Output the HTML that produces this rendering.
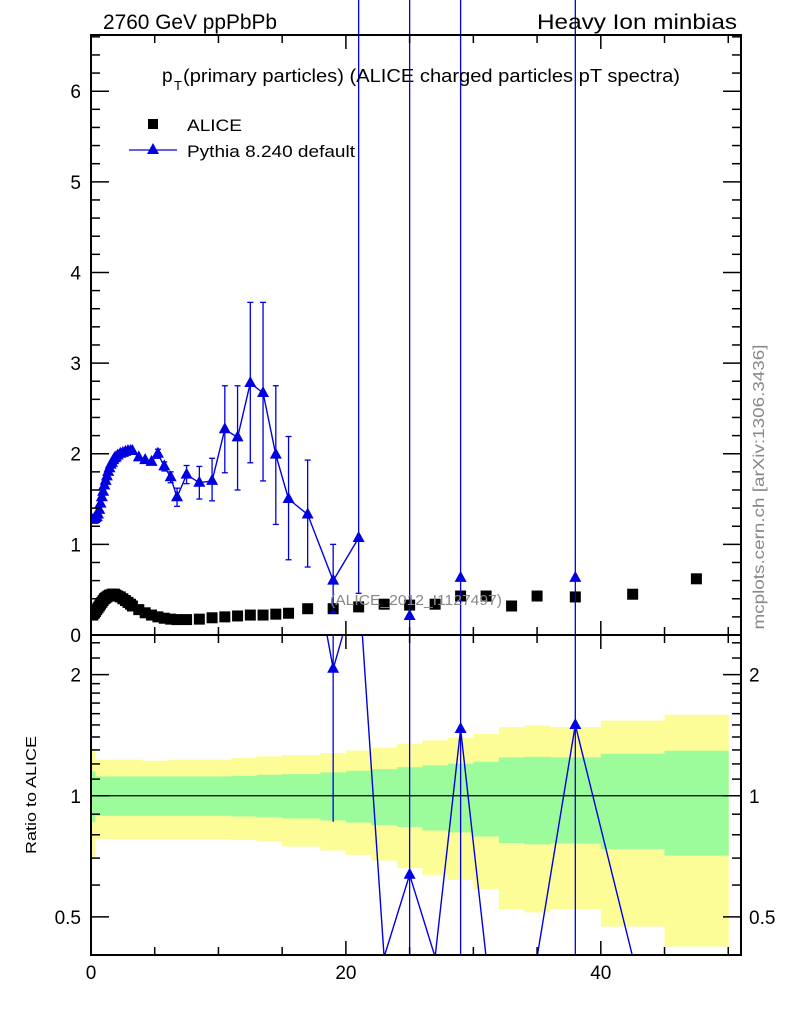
<!DOCTYPE html>
<html><head><meta charset="utf-8"><style>
html,body{margin:0;padding:0;background:#fff;}
svg{display:block;font-family:"Liberation Sans",sans-serif;}
</style></head><body>
<svg id="chart" width="786" height="1024" viewBox="0 0 786 1024" xmlns="http://www.w3.org/2000/svg">
<g id="ratioBands"></g>
<g id="ratioLayer"></g>
<g id="mainLayer"></g>
<g id="axes"></g>
<text x="103" y="29" font-size="21" textLength="174" lengthAdjust="spacingAndGlyphs">2760 GeV ppPbPb</text>
<text x="537" y="29" font-size="21" textLength="200" lengthAdjust="spacingAndGlyphs">Heavy Ion minbias</text>
<text x="162" y="82" font-size="19">p</text>
<text x="174" y="90" font-size="13">T</text>
<text x="183" y="82" font-size="18" textLength="497" lengthAdjust="spacingAndGlyphs">(primary particles) (ALICE charged particles pT spectra)</text>
<g>
<rect x="148" y="119" width="10" height="10" fill="#000"/>
<text x="187" y="131" font-size="17" textLength="55" lengthAdjust="spacingAndGlyphs">ALICE</text>
<line x1="129" y1="150" x2="177" y2="150" stroke="#0000e0" stroke-width="1.3"/>
<polygon points="153,143 159,154 147,154" fill="#0000e0"/>
<text x="187" y="157" font-size="17" textLength="168" lengthAdjust="spacingAndGlyphs">Pythia 8.240 default</text>
</g>
<text x="330" y="605" font-size="15" fill="#888" textLength="172" lengthAdjust="spacingAndGlyphs">(ALICE_2012_I1127497)</text>
<text transform="translate(764,487) rotate(-90)" font-size="16" fill="#888" text-anchor="middle" textLength="285" lengthAdjust="spacingAndGlyphs">mcplots.cern.ch [arXiv:1306.3436]</text>
<text transform="translate(36,795) rotate(-90)" font-size="15" text-anchor="middle" textLength="118" lengthAdjust="spacingAndGlyphs">Ratio to ALICE</text>
</svg>
<script>
// ---- data ----
const xs = [0.15,0.25,0.35,0.45,0.55,0.65,0.75,0.85,0.95,1.05,1.15,1.25,1.35,1.45,1.55,1.65,1.75,1.85,1.95,2.1,2.3,2.5,2.7,2.9,3.1,3.25,3.75,4.25,4.75,5.25,5.75,6.25,6.75,7.5,8.5,9.5,10.5,11.5,12.5,13.5,14.5,15.5,17,19,21,23,25,27,29,31,33,35,38,42.5,47.5];
const aliceVals = [0.22,0.24,0.26,0.28,0.30,0.32,0.34,0.36,0.38,0.40,0.41,0.42,0.43,0.44,0.44,0.45,0.45,0.45,0.44,0.43,0.42,0.40,0.38,0.36,0.34,0.32,0.28,0.245,0.22,0.2,0.185,0.175,0.17,0.17,0.175,0.19,0.2,0.21,0.22,0.22,0.23,0.24,0.29,0.29,0.31,0.34,0.33,0.34,0.43,0.43,0.32,0.43,0.42,0.45,0.62];
const pythiaVals = [1.27,1.28,1.29,1.30,1.33,1.38,1.45,1.52,1.58,1.65,1.70,1.75,1.80,1.84,1.88,1.90,1.93,1.95,1.96,1.98,2.0,2.01,2.02,2.03,2.03,2.03,1.96,1.93,1.91,2.0,1.86,1.74,1.52,1.77,1.68,1.70,2.27,2.18,2.78,2.67,1.99,1.50,1.33,0.60,1.07,0,0.21,0,0.63,0,0,0,0.63,0,0];
const pythiaErrLo = [0,0,0,0,0,0,0,0,0,0,0,0,0,0,0,0,0,0,0,0,0,0,0,0,0,0,0,0,0,0.05,0.05,0.06,0.1,0.1,0.18,0.22,0.48,0.58,0.88,0.97,0.77,0.67,0.58,0.35,0.61,0,0.21,0,0.63,0,0,0,0.63,0,0];
const pythiaErrHi = [0,0,0,0,0,0,0,0,0,0,0,0,0,0,0,0,0,0,0,0,0,0,0,0,0,0,0,0,0,0.05,0.05,0.06,0.1,0.1,0.18,0.25,0.48,0.57,0.89,1.0,0.76,0.69,0.6,0.4,9,0,9,0,9,0,0,0,9,0,0];
// ALICE uncertainty bands (ratio), per bin
const bandEdges = [0,0.3,4,6,11,13,15,18,20,22,24,26,28,30,32,34,36,40,45,50];
const yellowHi = [1.30,1.229,1.222,1.229,1.241,1.253,1.262,1.277,1.296,1.317,1.347,1.373,1.394,1.424,1.482,1.496,1.482,1.537,1.590];
const greenHi = [1.15,1.117,1.117,1.117,1.121,1.128,1.132,1.143,1.154,1.165,1.178,1.190,1.201,1.215,1.246,1.250,1.246,1.272,1.294];
const greenLo = [0.86,0.892,0.892,0.892,0.888,0.885,0.878,0.868,0.858,0.845,0.836,0.820,0.811,0.792,0.763,0.757,0.761,0.737,0.710];
const yellowLo = [0.70,0.780,0.780,0.780,0.776,0.768,0.748,0.731,0.713,0.690,0.662,0.636,0.618,0.586,0.522,0.513,0.522,0.473,0.422];
const xTickLabels = [0,20,40];
const mainYTickLabels = [0,1,2,3,4,5,6];
const ratioTickLabels = [0.5,1,2];

// ---- geometry ----
const NS='http://www.w3.org/2000/svg';
const L=91,R=741,T=35,MB=635,RB=955;
const XMAX=51, YMAX=6.62, RMIN=0.402, RMAX=2.51;
const sx=v=>L+(R-L)*v/XMAX;
const sy=v=>MB-(MB-T)*v/YMAX;
const sr=v=>MB+(RB-MB)*(Math.log(RMAX)-Math.log(v))/(Math.log(RMAX)-Math.log(RMIN));
const BLUE='#0000e0';
function mk(tag,attrs,parent){const e=document.createElementNS(NS,tag);for(const k in attrs)e.setAttribute(k,attrs[k]);parent.appendChild(e);return e;}

const defs=mk('defs',{},document.getElementById('chart'));
const cm=mk('clipPath',{id:'clipMain'},defs);mk('rect',{x:L,y:0,width:R-L,height:MB},cm);
const cr=mk('clipPath',{id:'clipRatio'},defs);mk('rect',{x:L,y:MB,width:R-L,height:RB-MB},cr);

// bands
const bands=document.getElementById('ratioBands');
bands.setAttribute('clip-path','url(#clipRatio)');
for(let i=0;i<yellowHi.length;i++){
  const x0=sx(bandEdges[i]),x1=sx(bandEdges[i+1]);
  const y=mk('rect',{x:x0,y:sr(yellowHi[i]),width:x1-x0+0.5,height:sr(yellowLo[i])-sr(yellowHi[i]),fill:'#fdfd98'},bands);
  
  
}
for(let i=0;i<greenHi.length;i++){
  const x0=sx(bandEdges[i]),x1=sx(bandEdges[i+1]);
  const g=mk('rect',{x:x0,y:sr(greenHi[i]),width:x1-x0+0.5,height:sr(greenLo[i])-sr(greenHi[i]),fill:'#9cfc9c'},bands);
  
  
}
const one=mk('line',{x1:L,x2:R,y1:sr(1),y2:sr(1),stroke:'#000','stroke-width':1.3},bands);



function tri(x,y,parent,name){
  const p=mk('polygon',{points:`${x},${y-7} ${x+6},${y+4} ${x-6},${y+4}`,fill:BLUE},parent);
  
  
}

// ratio series
const rl=document.getElementById('ratioLayer');
rl.setAttribute('clip-path','url(#clipRatio)');
const rpt=i=>pythiaVals[i]>0?sr(pythiaVals[i]/aliceVals[i]):RB+2;
let d='';
for(let i=0;i<xs.length;i++){d+=(i?'L':'M')+sx(xs[i]).toFixed(1)+','+rpt(i).toFixed(1);}
const rline=mk('path',{d:d,fill:'none',stroke:BLUE,'stroke-width':1.4},rl);


for(let i=0;i<xs.length;i++){
  if(!(pythiaVals[i]>0))continue;
  const a=aliceVals[i],r=pythiaVals[i]/a;
  if(r>RMAX)continue;
  const lo=pythiaVals[i]-pythiaErrLo[i],hi=pythiaVals[i]+pythiaErrHi[i];
  if(pythiaErrHi[i]>0||pythiaErrLo[i]>0){
    const e=mk('line',{x1:sx(xs[i]),x2:sx(xs[i]),y1:lo>0?sr(lo/a):RB+2,y2:sr(hi/a),stroke:BLUE,'stroke-width':1.3},rl);
    
    
  }
  tri(sx(xs[i]),rpt(i),rl,'pythia-ratio-point');
}

// main series
const ml=document.getElementById('mainLayer');
ml.setAttribute('clip-path','url(#clipMain)');
for(let i=0;i<xs.length;i++){
  const s=mk('rect',{x:sx(xs[i])-5.5,y:sy(aliceVals[i])-5.5,width:11,height:11,fill:'#000'},ml);
  
  
}
let dm='',started=false;
for(let i=0;i<xs.length;i++){
  if(pythiaVals[i]>0&&(i===0||pythiaVals[i-1]>0)){dm+=(started?'L':'M')+sx(xs[i]).toFixed(1)+','+sy(pythiaVals[i]).toFixed(1);started=true;}
  else if(pythiaVals[i]>0){dm+='M'+sx(xs[i]).toFixed(1)+','+sy(pythiaVals[i]).toFixed(1);}
}
const mline=mk('path',{d:dm,fill:'none',stroke:BLUE,'stroke-width':1.4},ml);


for(let i=0;i<xs.length;i++){
  if(!(pythiaVals[i]>0))continue;
  const X=sx(xs[i]);
  if(pythiaErrHi[i]>0||pythiaErrLo[i]>0){
    const y1=sy(pythiaVals[i]-pythiaErrLo[i]),y2=sy(pythiaVals[i]+pythiaErrHi[i]);
    const e=mk('line',{x1:X,x2:X,y1:y1,y2:y2,stroke:BLUE,'stroke-width':1.3},ml);
    
    
    for(const yy of [y1,y2]){
      const c=mk('line',{x1:X-3,x2:X+3,y1:yy,y2:yy,stroke:BLUE,'stroke-width':1.3},ml);
      
      
    }
  }
  tri(X,sy(pythiaVals[i]),ml,'pythia-point');
}

// axes
const ax=document.getElementById('axes');
const fr1=mk('rect',{x:L,y:T,width:R-L,height:MB-T,fill:'none',stroke:'#000','stroke-width':2},ax);


const fr2=mk('rect',{x:L,y:MB,width:R-L,height:RB-MB,fill:'none',stroke:'#000','stroke-width':2},ax);


function tick(x1,y1,x2,y2,name){const t=mk('line',{x1,y1,x2,y2,stroke:'#000','stroke-width':1.5},ax);}
for(let v=0;v<=50;v+=5){
  const len=(v%20===0)?14:8,X=sx(v);
  tick(X,MB,X,MB-len,'x-tick');tick(X,T,X,T+len,'x-tick');
  tick(X,RB,X,RB-len,'x-tick');tick(X,MB,X,MB+len,'x-tick');
}
for(const v of xTickLabels){
  const t=mk('text',{x:sx(v),y:RB+24,'font-size':19,'text-anchor':'middle'},ax);t.textContent=v;
  
  
}
for(let k=0;k<=33;k++){
  const v=k*0.2,Y=sy(v),len=(k%5===0)?18:9;
  tick(L,Y,L+len,Y,'y-tick');tick(R,Y,R-len,Y,'y-tick');
}
for(const v of mainYTickLabels){
  const t=mk('text',{x:81,y:sy(v)+7,'font-size':19,'text-anchor':'end'},ax);t.textContent=v;
  
  
}
const rminor=[0.5,0.6,0.7,0.8,0.9,1,1.1,1.2,1.3,1.4,1.5,1.6,1.7,1.8,1.9,2,2.2,2.4];
for(const v of rminor){
  const Y=sr(v),len=(v===0.5||v===1||v===2)?18:9;
  tick(L,Y,L+len,Y,'ratio-y-tick');tick(R,Y,R-len,Y,'ratio-y-tick');
}
for(const v of ratioTickLabels){
  const a=mk('text',{x:81,y:sr(v)+7,'font-size':19,'text-anchor':'end'},ax);a.textContent=v;
  
  
  const b=mk('text',{x:749,y:sr(v)+7,'font-size':19},ax);b.textContent=v;
  
  
}
</script>
</body></html>
